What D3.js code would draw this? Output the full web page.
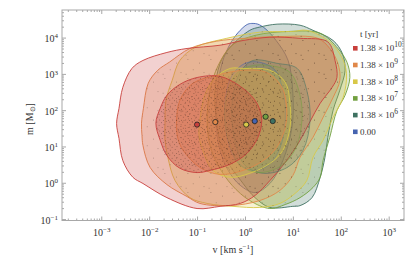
<!DOCTYPE html>
<html>
<head>
<meta charset="utf-8">
<script src="https://cdn.jsdelivr.net/npm/d3@7"></script>
<style>
body{margin:0;background:#fff;}
text{font-family:"Liberation Serif","Times New Roman",serif;fill:#333;}
</style>
</head>
<body>
<svg id="chart" width="415" height="264"></svg>
<script>
// legend / series order: oldest first, initial distribution last
var tMantissa = ["1.38","1.38","1.38","1.38","1.38","0.00"];
var tExponent = ["10","9","8","7","6",""];
var colors = ["#c8403c","#e0884a","#d8c848","#72a040","#3f7262","#4664b0"];

// median of each distribution (v in km/s, m in Msun)
var medianV = [0.10, 0.24, 1.06, 2.7, 3.8, 1.6];
var medianM = [40, 47, 40, 66, 50, 50];

// contours as [log10 v, log10 m], outer ~95%, inner ~68%
var redOuter = [[-2.68,1.63],[-2.63,2.05],[-2.55,2.63],[-2.36,3.15],[-2.13,3.37],[-1.63,3.59],[-1.21,3.70],[-0.52,3.79],[-0.04,3.92],[0.52,4.01],[1.15,3.98],[1.73,3.88],[1.88,3.37],[1.92,2.90],[1.82,2.63],[1.57,2.19],[1.36,1.69],[1.15,1.17],[0.84,0.56],[0.52,0.06],[0.21,-0.35],[-0.10,-0.57],[-0.52,-0.65],[-1.00,-0.71],[-1.63,-0.41],[-2.13,-0.02],[-2.34,0.15],[-2.55,0.61],[-2.63,1.22]];
var redInner = [[-1.86,1.64],[-1.77,2.05],[-1.63,2.41],[-1.36,2.71],[-1.00,2.90],[-0.52,2.93],[-0.04,2.60],[0.25,2.19],[0.35,1.72],[0.27,1.25],[0.04,0.81],[-0.31,0.51],[-0.73,0.34],[-1.00,0.28],[-1.36,0.40],[-1.63,0.75],[-1.77,1.17]];
var orangeOuter = [[-2.16,1.64],[-2.12,2.05],[-2.02,2.74],[-1.82,3.10],[-1.57,3.33],[-1.15,3.70],[-0.59,3.90],[0.00,3.98],[0.73,4.03],[1.52,3.98],[1.77,3.70],[1.94,3.29],[1.98,2.82],[1.84,2.35],[1.63,1.80],[1.42,1.25],[1.15,0.70],[1.00,0.20],[0.73,-0.21],[0.31,-0.49],[-0.31,-0.63],[-0.94,-0.57],[-1.21,-0.38],[-1.63,-0.05],[-1.98,0.42],[-2.13,1.03],[-2.15,1.30]];
var orangeInner = [[-1.43,1.64],[-1.36,2.27],[-1.09,2.74],[-0.59,2.96],[-0.04,3.10],[0.45,3.04],[0.77,2.63],[0.87,2.08],[0.84,1.52],[0.66,0.97],[0.38,0.61],[-0.04,0.34],[-0.52,0.23],[-0.94,0.42],[-1.29,0.89],[-1.40,1.22]];
var yellowOuter = [[-1.67,1.64],[-1.65,2.27],[-1.52,2.82],[-1.36,3.37],[-1.04,3.73],[-0.38,3.98],[0.31,4.15],[1.00,4.17],[1.29,4.20],[1.77,3.88],[2.02,3.46],[2.12,3.01],[2.05,2.35],[1.84,1.80],[1.63,1.17],[1.42,0.70],[1.29,0.06],[1.04,-0.30],[0.73,-0.57],[0.31,-0.68],[-0.25,-0.65],[-0.79,-0.57],[-1.15,-0.41],[-1.46,0.06],[-1.61,0.70],[-1.67,1.17]];
var yellowInner = [[-0.94,1.72],[-0.84,2.41],[-0.63,2.88],[-0.31,3.15],[-0.04,3.15],[0.52,3.10],[0.84,2.77],[0.94,2.19],[0.94,1.52],[0.79,0.89],[0.52,0.53],[0.10,0.26],[-0.31,0.15],[-0.67,0.34],[-0.88,0.89],[-0.96,1.30]];
var greenOuter = [[-0.79,1.72],[-0.73,2.55],[-0.56,3.23],[-0.27,3.79],[0.21,4.06],[0.94,4.17],[1.57,4.12],[1.94,3.70],[2.13,3.32],[2.19,2.90],[2.09,2.41],[1.92,1.99],[1.77,1.25],[1.63,0.61],[1.57,0.15],[1.42,-0.13],[1.15,-0.41],[0.84,-0.60],[0.52,-0.71],[0.10,-0.49],[-0.27,-0.07],[-0.56,0.48],[-0.73,1.03]];
var greenInner = [[-0.42,1.72],[-0.38,2.41],[-0.21,2.96],[0.10,3.21],[0.52,3.23],[0.94,3.04],[1.15,2.41],[1.19,1.72],[1.06,0.95],[0.77,0.48],[0.31,0.28],[-0.10,0.48],[-0.31,1.03]];
var tealOuter = [[-0.59,1.72],[-0.63,2.46],[-0.52,3.29],[-0.31,3.73],[0.10,4.20],[0.31,4.29],[0.67,4.37],[1.15,4.34],[1.42,4.20],[1.84,3.92],[2.03,3.57],[2.09,3.10],[1.98,2.55],[1.84,2.00],[1.73,1.25],[1.67,0.70],[1.57,0.15],[1.40,-0.41],[1.15,-0.63],[1.00,-0.65],[0.52,-0.68],[0.21,-0.41],[-0.04,-0.02],[-0.46,0.81]];
var tealInner = [[-0.27,1.72],[-0.25,2.41],[-0.10,3.04],[0.17,3.37],[0.67,3.29],[1.09,3.15],[1.29,2.55],[1.36,1.72],[1.21,0.89],[0.88,0.42],[0.38,0.26],[0.00,0.48],[-0.19,1.03]];
var blueOuter = [[-0.61,1.72],[-0.58,2.46],[-0.48,3.29],[-0.29,3.87],[-0.10,4.20],[0.06,4.37],[0.17,4.39],[0.27,4.37],[0.42,4.25],[0.65,3.92],[0.90,3.37],[1.00,2.46],[0.98,1.52],[0.79,0.61],[0.52,-0.02],[0.21,-0.27],[-0.10,-0.07],[-0.35,0.34],[-0.52,0.89]];
var blueInner = [[-0.42,1.72],[-0.40,2.41],[-0.27,2.96],[0.00,3.29],[0.31,3.32],[0.63,3.10],[0.81,2.41],[0.84,1.72],[0.73,0.95],[0.48,0.48],[0.15,0.34],[-0.15,0.56],[-0.33,1.03]];

var outers = [redOuter, orangeOuter, yellowOuter, greenOuter, tealOuter, blueOuter];
var inners = [redInner, orangeInner, yellowInner, greenInner, tealInner, blueInner];
var innerOpacity = [0.34, 0.3, 0.26, 0.16, 0.16, 0.16];

var xTickExp = [-3,-2,-1,0,1,2,3];
var yTickExp = [-1,0,1,2,3,4];

var svg = d3.select("#chart");
var pl = 62, pr = 404, pt = 10, pb = 220.5;

var x = d3.scaleLog().domain([Math.pow(10,-3.82), Math.pow(10,3.32)]).range([pl, pr]);
var y = d3.scaleLog().domain([Math.pow(10,-1.04), Math.pow(10,4.76)]).range([pb, pt]);

var line = d3.line()
  .x(function(p){ return x(Math.pow(10, p[0])); })
  .y(function(p){ return y(Math.pow(10, p[1])); })
  .curve(d3.curveCatmullRomClosed.alpha(0.5));

// speckle textures standing in for the sample points
var defs = svg.append("defs");
function speckle(id, w, h, pts, op){
  var p = defs.append("pattern").attr("id", id)
    .attr("patternUnits","userSpaceOnUse").attr("width", w).attr("height", h);
  pts.forEach(function(q){
    p.append("rect").attr("x", q[0]).attr("y", q[1]).attr("width", 0.8).attr("height", 0.8)
      .attr("fill", "#2a1a10").attr("fill-opacity", op);
  });
}
speckle("dotsDense", 13, 11, [[0.4,0.7],[5.2,1.3],[9.8,0.2],[2.7,3.9],[7.6,3.3],[11.5,5.1],[0.9,6.8],[5.8,6.1],[9.1,8.4],[3.3,9.6],[12.2,9.9],[7.1,10.2]], 0.5);
speckle("dotsMid", 17, 13, [[1.2,1.5],[8.3,0.6],[13.6,3.1],[4.9,5.2],[10.7,7.4],[2.1,9.8],[15.2,10.9],[7.4,11.6]], 0.4);
speckle("dotsSparse", 23, 19, [[3.5,2.2],[15.1,5.7],[8.8,12.4],[19.6,15.3],[1.7,16.8]], 0.4);

var plot = svg.append("g");
var order = [5,4,3,2,1,0];

plot.selectAll(".outer").data(order).enter().append("path")
  .attr("class","outer")
  .attr("d", function(i){ return line(outers[i]); })
  .attr("fill", function(i){ return colors[i]; })
  .attr("fill-opacity", 0.24)
  .attr("stroke", function(i){ return colors[i]; })
  .attr("stroke-width", 0.9);

plot.selectAll(".inner").data(order).enter().append("path")
  .attr("class","inner")
  .attr("d", function(i){ return line(inners[i]); })
  .attr("fill", function(i){ return colors[i]; })
  .attr("fill-opacity", function(i){ return innerOpacity[i]; })
  .attr("stroke", function(i){ return colors[i]; })
  .attr("stroke-opacity", function(i){ return i > 2 ? 0.6 : 1; })
  .attr("stroke-width", 0.9);

plot.append("path").attr("d", line(orangeOuter)).attr("fill","url(#dotsSparse)");
plot.append("path").attr("d", line(tealOuter)).attr("fill","url(#dotsSparse)");
plot.append("path").attr("d", line(tealInner)).attr("fill","url(#dotsMid)");
plot.append("path").attr("d", line(orangeInner)).attr("fill","url(#dotsMid)");
plot.append("path").attr("d", line(redInner)).attr("fill","url(#dotsDense)");

plot.selectAll(".median").data(order).enter().append("circle")
  .attr("class","median")
  .attr("cx", function(i){ return x(medianV[i]); })
  .attr("cy", function(i){ return y(medianM[i]); })
  .attr("r", 2.6)
  .attr("fill", function(i){ return colors[i]; })
  .attr("stroke", "#222")
  .attr("stroke-width", 0.8);

// frame and ticks
var frameColor = "#a8a8a8";
var xMajor = xTickExp.map(function(e){ return Math.pow(10,e); });
var yMajor = yTickExp.map(function(e){ return Math.pow(10,e); });
function minors(scale){
  var d = scale.domain(), out = [];
  for (var e = -5; e <= 5; e++) for (var k = 2; k <= 9; k++){
    var v = k * Math.pow(10, e);
    if (v > d[0] && v < d[1]) out.push(v);
  }
  return out;
}
function styleAxis(g){
  g.select(".domain").remove();
  g.selectAll(".tick line").attr("stroke", frameColor);
  g.attr("font-family", null).attr("font-size", null);
}

[["axisBottom", pb, x], ["axisTop", pt, x]].forEach(function(a){
  svg.append("g").attr("transform","translate(0,"+a[1]+")")
    .call(d3[a[0]](a[2]).tickValues(minors(a[2])).tickSize(-2).tickFormat(""))
    .call(styleAxis);
});
[["axisLeft", pl, y], ["axisRight", pr, y]].forEach(function(a){
  svg.append("g").attr("transform","translate("+a[1]+",0)")
    .call(d3[a[0]](a[2]).tickValues(minors(a[2])).tickSize(-2).tickFormat(""))
    .call(styleAxis);
});
svg.append("g").attr("transform","translate(0,"+pt+")")
  .call(d3.axisTop(x).tickValues(xMajor).tickSize(-4).tickFormat("")).call(styleAxis);
svg.append("g").attr("transform","translate("+pr+",0)")
  .call(d3.axisRight(y).tickValues(yMajor).tickSize(-4).tickFormat("")).call(styleAxis);

var gx = svg.append("g").attr("transform","translate(0,"+pb+")")
  .call(d3.axisBottom(x).tickValues(xMajor).tickSize(-4).tickPadding(6).tickFormat(""))
  .call(styleAxis);
gx.selectAll(".tick text").each(function(d){
  var t = d3.select(this).attr("font-size", 10).attr("fill", "#333").attr("dy", "0.9em");
  t.append("tspan").text("10");
  t.append("tspan").attr("font-size", 7).attr("dy", "-0.55em")
    .text(String(Math.round(Math.log10(d))).replace("-", "\u2212"));
});

var gy = svg.append("g").attr("transform","translate("+pl+",0)")
  .call(d3.axisLeft(y).tickValues(yMajor).tickSize(-4).tickPadding(4).tickFormat(""))
  .call(styleAxis);
gy.selectAll(".tick text").each(function(d){
  var t = d3.select(this).attr("font-size", 10).attr("fill", "#333").attr("dy", "0.4em");
  t.append("tspan").text("10");
  t.append("tspan").attr("font-size", 7).attr("dy", "-0.55em")
    .text(String(Math.round(Math.log10(d))).replace("-", "\u2212"));
});

svg.append("rect").attr("x", pl).attr("y", pt).attr("width", pr - pl).attr("height", pb - pt)
  .attr("fill", "none").attr("stroke", frameColor).attr("stroke-width", 1);

// axis titles
var xl = svg.append("text").attr("x", (pl + pr) / 2).attr("y", 253)
  .attr("text-anchor", "middle").attr("font-size", 10);
xl.append("tspan").text("v [km s");
xl.append("tspan").attr("font-size", 7).attr("dy", -4).text("\u22121");
xl.append("tspan").attr("dy", 4).text("]");

var yl = svg.append("text").attr("transform", "translate(33,119) rotate(-90)")
  .attr("text-anchor", "middle").attr("font-size", 10);
yl.append("tspan").text("m [M");
yl.append("tspan").attr("font-size", 7).attr("dy", 2).text("\u2299");
yl.append("tspan").attr("dy", -2).text("]");

// legend
var lg = svg.append("g").attr("transform", "translate(353,0)");
lg.append("text").attr("x", 7).attr("y", 37).attr("font-size", 9).text("t [yr]");
var items = lg.selectAll(".item").data(d3.range(colors.length)).enter().append("g")
  .attr("class", "item")
  .attr("transform", function(i){ return "translate(0," + (48.3 + i * 16.7) + ")"; });
items.append("rect").attr("x", 0).attr("y", -2.3).attr("width", 4.6).attr("height", 4.6)
  .attr("fill", function(i){ return colors[i]; });
items.each(function(i){
  var t = d3.select(this).append("text").attr("x", 7).attr("y", 3).attr("font-size", 9);
  if (tExponent[i]) {
    t.append("tspan").text(tMantissa[i] + " \u00d7 10");
    t.append("tspan").attr("font-size", 7.5).attr("dy", -4).text(tExponent[i]);
  } else {
    t.text(tMantissa[i]);
  }
});
</script>
</body>
</html>
